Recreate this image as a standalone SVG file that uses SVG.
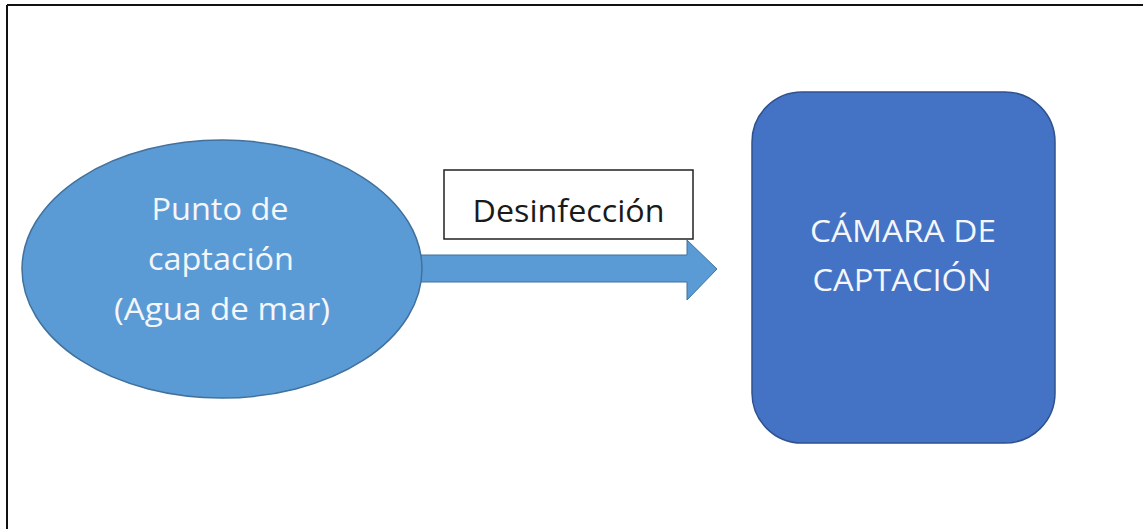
<svg xmlns="http://www.w3.org/2000/svg" width="1143" height="529" viewBox="0 0 1143 529">
  <style>
    .lbl { font-family: "Open Sans", "Liberation Sans", sans-serif; text-anchor: middle; font-size: 31px; }
    .white { fill: #f4f6fa; }
    .dark { fill: #1a1a1a; }
  </style>
  <rect x="0" y="0" width="1143" height="529" fill="#ffffff"/>
  <g id="frame">
    <line x1="7" y1="5" x2="1143" y2="5" stroke="#111111" stroke-width="2"/>
    <line x1="7" y1="5" x2="7" y2="529" stroke="#111111" stroke-width="2"/>
  </g>
  <g id="connectors">
    <path d="M420,255 L687,255 L687,240 L717,269 L687,300 L687,282 L420,282 Z" fill="#5b9bd5" stroke="#41719c" stroke-width="1"/>
  </g>
  <g id="node-punto">
    <ellipse cx="222" cy="269" rx="200" ry="129" fill="#5b9bd5" stroke="#41719c" stroke-width="1.5"/>
    <text class="lbl white" x="220" y="220" textLength="137" lengthAdjust="spacingAndGlyphs">Punto de</text>
    <text class="lbl white" x="221" y="270" textLength="146" lengthAdjust="spacingAndGlyphs">captación</text>
    <text class="lbl white" x="222" y="320" textLength="216" lengthAdjust="spacingAndGlyphs">(Agua de mar)</text>
  </g>
  <g id="node-desinfeccion">
    <rect x="444" y="170" width="249" height="69" fill="#ffffff" stroke="#222222" stroke-width="1.5"/>
    <text class="lbl dark" x="568.5" y="222" textLength="192" lengthAdjust="spacingAndGlyphs">Desinfección</text>
  </g>
  <g id="node-camara">
    <rect x="752" y="92" width="303" height="351" rx="50" ry="50" fill="#4472c4" stroke="#2f528f" stroke-width="1.5"/>
    <text class="lbl white" x="903" y="242" textLength="186" lengthAdjust="spacingAndGlyphs">CÁMARA DE</text>
    <text class="lbl white" x="902" y="291" textLength="179" lengthAdjust="spacingAndGlyphs">CAPTACIÓN</text>
  </g>
</svg>
